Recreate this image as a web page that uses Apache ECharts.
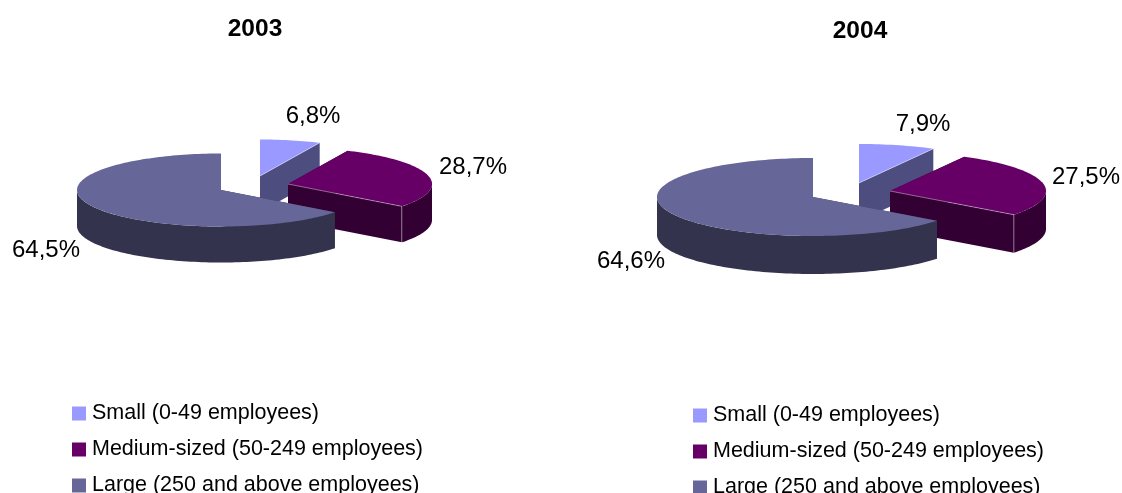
<!DOCTYPE html>
<html>
<head>
<meta charset="utf-8">
<style>html,body{margin:0;padding:0;background:#fff}#c{width:1122px;height:493px}</style>
<script src="https://cdn.jsdelivr.net/npm/echarts@6/dist/echarts.min.js"></script>
</head>
<body>
<div id="c"></div>
<script>
// ---- data ----
const categories = ['Small (0-49 employees)', 'Medium-sized (50-249 employees)', 'Large (250 and above employees)'];
const years = ['2003', '2004'];
const values2003 = [6.8, 28.7, 64.5];
const values2004 = [7.9, 27.5, 64.6];

// ---- style and layout ----
const topColors = ['#9999ff', '#660066', '#666699'];
const sideColors = ['#4d4d80', '#330033', '#33334d'];
const FONT = '"Liberation Sans", Arial, sans-serif';
const pies = [
  { values: values2003, rx: 144, ry: 36.5, depth: 36,
    apex: [[260, 176], [288, 184], [221, 190]],
    labels: [[313, 116], [473, 167], [46, 250]] },
  { values: values2004, rx: 156, ry: 39, depth: 38,
    apex: [[859, 183], [890, 191], [813, 197]],
    labels: [[923, 124], [1086, 177], [631, 261]] }
];

function sliceRenderer(pie, idx) {
  return function (params, api) {
    const value = api.value(0);
    const total = pie.values.reduce((s, v) => s + v, 0);
    const before = pie.values.slice(0, idx).reduce((s, v) => s + v, 0);
    const a0 = before / total * 360;
    const a1 = a0 + value / total * 360;
    const [cx, cy] = pie.apex[idx];
    const P = (a, d) => {
      const r = a * Math.PI / 180;
      return [cx + pie.rx * Math.sin(r), cy - pie.ry * Math.cos(r) + (d || 0)];
    };
    const C = d => [cx, cy + (d || 0)];
    const h = pie.depth;
    const arc = (s, e, d) => {
      const out = [];
      const n = Math.max(2, Math.ceil((e - s) / 1.5));
      for (let i = 0; i <= n; i++) out.push(P(s + (e - s) * i / n, d));
      return out;
    };
    const poly = (points, fill) => ({ type: 'polygon', shape: { points }, style: { fill } });
    const children = [];
    const side = sideColors[idx];
    children.push(poly([C(), P(a0), P(a0, h), C(h)], side));
    children.push(poly([C(), P(a1), P(a1, h), C(h)], side));
    const rs = Math.max(a0, 90), re = Math.min(a1, 270);
    if (re > rs) {
      children.push(poly(arc(rs, re, 0).concat(arc(rs, re, h).reverse()), side));
    }
    children.push(poly([C()].concat(arc(a0, a1, 0)), topColors[idx]));
    if (idx < 2) {
      const edge = { stroke: 'rgba(255,255,255,0.4)', lineWidth: 1, fill: 'none' };
      children.push({ type: 'polyline', shape: { points: [C(), P(a1)] }, style: edge });
      if (idx === 1) children.push({ type: 'polyline', shape: { points: [P(a1), P(a1, h)] }, style: edge });
    }
    children.push({
      type: 'text',
      style: {
        x: pie.labels[idx][0], y: pie.labels[idx][1],
        text: value.toFixed(1).replace('.', ',') + '%',
        fill: '#000', font: '24px ' + FONT, align: 'center', verticalAlign: 'middle'
      }
    });
    return { type: 'group', children };
  };
}

const series = [];
pies.forEach(pie => {
  categories.forEach((name, idx) => {
    series.push({
      type: 'custom',
      name,
      coordinateSystem: 'none',
      itemStyle: { color: topColors[idx] },
      silent: true,
      animation: false,
      renderItem: sliceRenderer(pie, idx),
      data: [[pie.values[idx]]]
    });
  });
});

const legendBase = {
  orient: 'vertical', data: categories, icon: 'rect', itemWidth: 14, itemHeight: 14,
  itemGap: 7, padding: 0, selectedMode: false, height: 140, width: 400,
  textStyle: { fontFamily: FONT, fontSize: 21.5, lineHeight: 22, color: '#000', padding: [0, 0, 7, 1] }
};

const chart = echarts.init(document.getElementById('c'), null, { renderer: 'canvas' });
chart.setOption({
  backgroundColor: '#fff',
  animation: false,
  tooltip: { show: false },
  title: [
    { text: years[0], left: 255, top: 17, textAlign: 'center', padding: 0,
      textStyle: { fontFamily: FONT, fontSize: 24.5, fontWeight: 'bold', color: '#000' } },
    { text: years[1], left: 860, top: 19, textAlign: 'center', padding: 0,
      textStyle: { fontFamily: FONT, fontSize: 24.5, fontWeight: 'bold', color: '#000' } }
  ],
  legend: [
    Object.assign({}, legendBase, { left: 72, top: 399 }),
    Object.assign({}, legendBase, { left: 693, top: 401 })
  ],
  series
});
</script>
</body>
</html>
